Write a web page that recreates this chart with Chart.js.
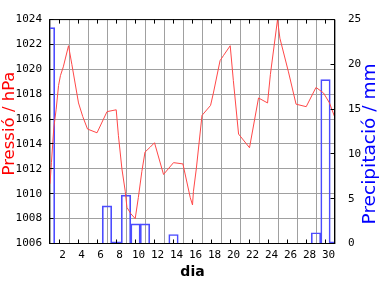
<!DOCTYPE html>
<html>
<head>
<meta charset="utf-8">
<script src="https://cdn.jsdelivr.net/npm/chart.js@4.4.0/dist/chart.umd.min.js"></script>
<style>
  html, body { margin:0; padding:0; background:#fff; }
  #wrap { width:384px; height:288px; }
</style>
</head>
<body>
<div id="wrap"><canvas id="chart" width="384" height="288"></canvas></div>
<script>
// pressure readings: day of month (fractional) and hPa
var presDays = [1.0, 1.15, 1.4, 1.65, 1.9, 2.1, 2.4, 2.95, 3.3, 4.0, 4.45, 4.95, 5.95, 7.0, 7.97,
  8.2, 8.57, 8.92, 9.1, 9.5, 9.97, 10.3, 10.67, 11.0, 11.55, 12.0, 12.95, 14.0, 14.99, 15.76,
  16.0, 16.1, 16.4, 17.0, 17.9, 18.2, 18.9, 19.25, 19.97, 20.3, 20.85, 22.0, 22.95, 23.9, 24.2,
  24.95, 25.2, 26.1, 26.9, 27.97, 29.0, 29.79, 30.42, 31.0];
var presVals = [1010.8, 1012.5, 1015.3, 1016.8, 1018.7, 1019.5, 1020.2, 1021.9, 1020.4, 1017.3, 1016.2, 1015.2, 1014.9, 1016.6, 1016.75,
  1014.7, 1012.0, 1010.2, 1008.9, 1008.4, 1008.0, 1009.7, 1011.8, 1013.35, 1013.75, 1014.1, 1011.55, 1012.5, 1012.4, 1009.7,
  1009.1, 1010.2, 1012.0, 1016.3, 1017.1, 1018.1, 1020.7, 1021.1, 1021.9, 1019.1, 1014.8, 1013.7, 1017.7, 1017.3, 1019.6,
  1024.0, 1022.5, 1019.8, 1017.2, 1017.0, 1018.55, 1018.1, 1017.3, 1016.1];

// daily rain (mm)
var rainDays = [1,2,3,4,5,6,7,8,9,10,11,12,13,14,15,16,17,18,19,20,21,22,23,24,25,26,27,28,29,30,31];
var rainVals = [24.1,0,0,0,0,0,4.2,0.2,5.4,2.2,2.2,0,0,1.0,0,0,0,0,0,0,0,0,0,0,0,0,0,0,1.2,18.3,0.2];

var dayTicks = [2,4,6,8,10,12,14,16,18,20,22,24,26,28,30];
var presTicks = [1006,1008,1010,1012,1014,1016,1018,1020,1022,1024];
var rainTicks = [0,5,10,15,20,25];

var tickFont = { family: '"DejaVu Sans Mono"', size: 11 };

function al(p) { return Math.round(p - 0.5) + 0.5; }
function plain(v) { return String(v); }

// frame, inward tick marks and the two y titles (gnuplot style)
var frame = {
  id: 'frame',
  afterDraw: function(chart) {
    var ctx = chart.ctx, a = chart.chartArea;
    var sx = chart.scales.x, sy = chart.scales.y, sy1 = chart.scales.y1;
    var L = a.left - 0.5, R = a.right - 0.5, T = a.top, B = a.bottom;
    ctx.save();
    ctx.strokeStyle = '#000';
    ctx.lineWidth = 1;
    ctx.beginPath();
    dayTicks.forEach(function(v) {
      var x = al(sx.getPixelForValue(v));
      ctx.moveTo(x, B); ctx.lineTo(x, B - 4);
      ctx.moveTo(x, T); ctx.lineTo(x, T + 4);
    });
    presTicks.forEach(function(v) {
      var y = al(sy.getPixelForValue(v));
      ctx.moveTo(L, y); ctx.lineTo(L + 4, y);
    });
    rainTicks.forEach(function(v) {
      var y = al(sy1.getPixelForValue(v));
      ctx.moveTo(R, y); ctx.lineTo(R - 4, y);
    });
    ctx.stroke();
    ctx.strokeRect(L, T, R - L, B - T);

    ctx.textAlign = 'center';
    ctx.textBaseline = 'alphabetic';
    ctx.translate(14, 123.5);
    ctx.rotate(-Math.PI / 2);
    ctx.font = '16.5px "DejaVu Sans"';
    ctx.fillStyle = '#ff0000';
    ctx.fillText('Pressió / hPa', 0, 0);
    ctx.restore();

    ctx.save();
    ctx.textAlign = 'center';
    ctx.textBaseline = 'alphabetic';
    ctx.translate(375, 144);
    ctx.rotate(-Math.PI / 2);
    ctx.font = '18.5px "DejaVu Sans"';
    ctx.fillStyle = '#0000ff';
    ctx.fillText('Precipitació / mm', 0, 0);
    ctx.restore();
  }
};

new Chart(document.getElementById('chart'), {
  type: 'bar',
  data: {
    datasets: [{
      type: 'line',
      label: 'Pressió',
      data: presDays.map(function(d, i) { return { x: d, y: presVals[i] }; }),
      borderColor: '#ff4848',
      borderWidth: 1,
      pointRadius: 0,
      tension: 0,
      yAxisID: 'y',
      order: 0,
      clip: 0
    }, {
      type: 'bar',
      label: 'Precipitació',
      data: rainDays.map(function(d, i) { return { x: d, y: rainVals[i] }; }),
      backgroundColor: 'rgba(0,0,0,0)',
      borderColor: '#4c4cff',
      borderWidth: 1,
      barPercentage: 1,
      categoryPercentage: 1,
      yAxisID: 'y1',
      order: 1,
      clip: 0
    }]
  },
  options: {
    responsive: false,
    animation: false,
    devicePixelRatio: 1,
    layout: { padding: { top: 14.5, left: 0, right: 0, bottom: 0 } },
    plugins: { legend: { display: false }, tooltip: { enabled: false } },
    scales: {
      x: {
        type: 'linear',
        min: 1, max: 31,
        offset: false,
        afterFit: function(s) { s.height = 44.5; },
        afterBuildTicks: function(s) { s.ticks = dayTicks.map(function(v) { return { value: v }; }); },
        grid: { color: '#a0a0a0', drawTicks: false },
        border: { display: false },
        ticks: { font: tickFont, color: '#000', padding: 5, labelOffset: 3, maxRotation: 0, autoSkip: false, callback: plain },
        title: { display: true, text: 'dia', color: '#000', font: { family: '"DejaVu Sans"', size: 14, weight: 'bold' }, padding: { top: 0, bottom: 7 } }
      },
      y: {
        position: 'left',
        min: 1006, max: 1024,
        afterFit: function(s) { s.width = 50; },
        afterBuildTicks: function(s) { s.ticks = presTicks.map(function(v) { return { value: v }; }); },
        grid: { color: '#a0a0a0', drawTicks: false },
        border: { display: false },
        ticks: { font: tickFont, color: '#000', padding: 8, callback: plain }
      },
      y1: {
        position: 'right',
        min: 0, max: 25,
        afterFit: function(s) { s.width = 49; },
        afterBuildTicks: function(s) { s.ticks = rainTicks.map(function(v) { return { value: v }; }); },
        grid: { display: false, drawTicks: false },
        border: { display: false },
        ticks: { font: tickFont, color: '#000', padding: 13, callback: plain }
      }
    }
  },
  plugins: [frame]
});
</script>
</body>
</html>
